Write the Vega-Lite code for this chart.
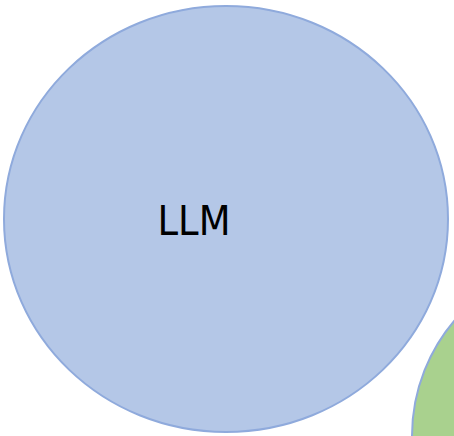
{
  "$schema": "https://vega.github.io/schema/vega-lite/v6.json",
  "width": 454,
  "height": 436,
  "padding": 0,
  "autosize": "none",
  "background": "white",
  "config": {"view": {"stroke": null}},
  "data": {"values": [
    {"set": "LLM", "label": "LLM", "cx": 226, "cy": 219, "lx": 194, "ly": 235},
    {"set": "other", "label": "", "cx": 590, "cy": 436, "lx": 590, "ly": 436}
  ]},
  "layer": [
    {
      "transform": [{"filter": "datum.set === 'LLM'"}],
      "mark": {"type": "point", "filled": true, "fill": "#B4C7E7", "stroke": "#8FAADC", "strokeWidth": 2, "opacity": 1, "fillOpacity": 1, "size": 197136,
        "shape": "M1,0 C1,0.530 0.5523,0.9595 0,0.9595 C-0.5523,0.9595 -1,0.530 -1,0 C-1,-0.530 -0.5523,-0.9595 0,-0.9595 C0.5523,-0.9595 1,-0.530 1,0 Z"},
      "encoding": {
        "x": {"field": "cx", "type": "quantitative", "scale": {"domain": [0, 454], "nice": false, "zero": false}, "axis": null},
        "y": {"field": "cy", "type": "quantitative", "scale": {"domain": [0, 436], "nice": false, "zero": false, "reverse": true}, "axis": null}
      }
    },
    {
      "transform": [{"filter": "datum.set === 'other'"}],
      "mark": {"type": "point", "filled": true, "fill": "#A9D18E", "stroke": "#8FAADC", "strokeWidth": 2, "opacity": 1, "fillOpacity": 1, "size": 126736, "shape": "circle"},
      "encoding": {
        "x": {"field": "cx", "type": "quantitative", "scale": {"domain": [0, 454], "nice": false, "zero": false}, "axis": null},
        "y": {"field": "cy", "type": "quantitative", "scale": {"domain": [0, 436], "nice": false, "zero": false, "reverse": true}, "axis": null}
      }
    },
    {
      "transform": [{"filter": "datum.set === 'LLM'"}],
      "mark": {"type": "text", "align": "center", "baseline": "alphabetic", "font": "DejaVu Sans Condensed, DejaVu Sans", "fontSize": 41, "color": "#000000"},
      "encoding": {
        "x": {"field": "lx", "type": "quantitative", "scale": {"domain": [0, 454], "nice": false, "zero": false}, "axis": null},
        "y": {"field": "ly", "type": "quantitative", "scale": {"domain": [0, 436], "nice": false, "zero": false, "reverse": true}, "axis": null},
        "text": {"field": "label"}
      }
    }
  ]
}
